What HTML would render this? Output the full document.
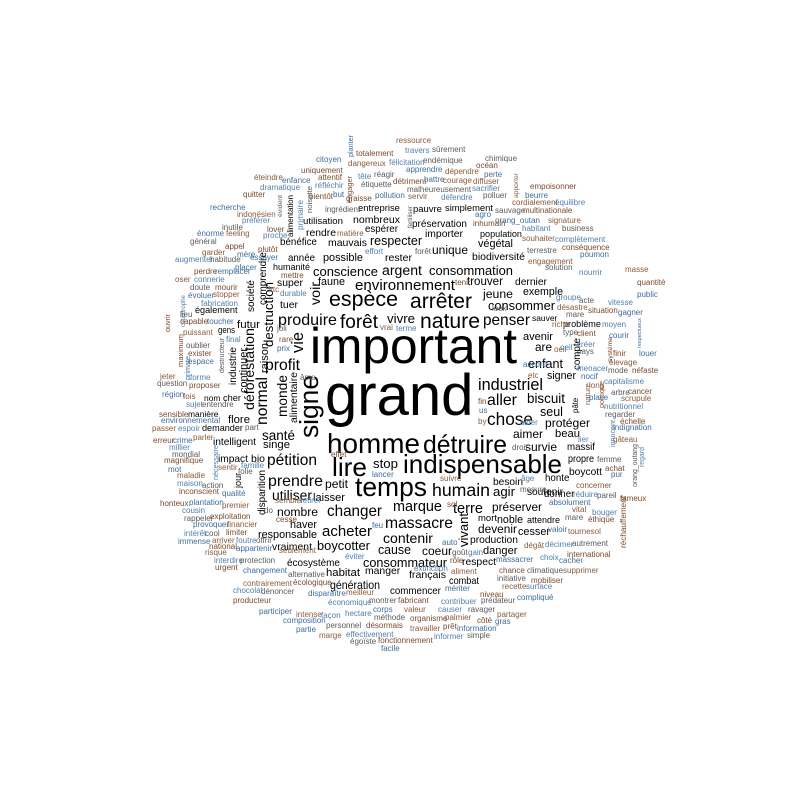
<!DOCTYPE html>
<html><head><meta charset="utf-8"><style>
html,body{margin:0;padding:0;background:#fff;width:800px;height:800px;overflow:hidden}
svg{display:block}
text{font-family:"Liberation Sans",Arial,sans-serif}
</style></head><body>
<svg id="cloud" width="800" height="800" viewBox="0 0 800 800" xmlns="http://www.w3.org/2000/svg">
<rect width="800" height="800" fill="#fff"/>
</svg>
<script>
// [word, x, baseline, size, length]
const bigWords = [
["important",310,363,47,207],["grand",325,415,58,147],["homme",327,453,30,93],["détruire",423,453,28,84],
["lire",332,476,34,35],["indispensable",403,473,30,159],["temps",355,496,30,72],["humain",432,496,22,58],
["nature",420,328,30,60],["espèce",329,306,26,69],["arrêter",410,308,28,62],["environnement",355,290,20,100],
["forêt",340,328,22,38],["vivre",387,323,18,28],["penser",483,325,22,47],["produire",278,325,22,59],
["conscience",313,276,17,65],["argent",382,275,20,40],["consommation",429,275,17,84],["trouver",467,285,17,36],
["jeune",483,298,18,30],["consommer",488,310,15,67],["profit",265,370,20,35],["santé",262,440,18,33],
["pétition",267,465,22,50],["prendre",268,486,22,55],["utiliser",272,500,18,40],["laisser",313,501,15,32],
["petit",325,488,15,23],["stop",373,468,18,25],["changer",327,516,22,55],["acheter",322,536,22,50],
["boycotter",317,550,17,53],["massacre",385,528,24,68],["marque",393,511,22,49],["terre",453,513,20,30],
["contenir",383,543,20,50],["industriel",478,390,22,65],["aller",487,405,22,30],["chose",487,425,24,46],
["biscuit",527,403,18,38],["seul",540,416,18,23],["aimer",513,438,17,30],["survie",525,451,15,32],
["préserver",492,511,18,50],["devenir",478,533,17,39],["avenir",523,340,16,30],["are",535,351,16,17],
["enfant",528,368,16,35],["nombre",277,516,16,41],["responsable",258,538,14,59],["vraiment",272,550,14,40],
["haver",290,528,14,27],["singe",263,448,14,27],["super",277,286,15,26],["tuer",280,308,15,18],
["humanité",273,270,12,37],["année",288,261,13,27],["possible",323,261,14,40],["rester",385,261,14,27],
["biodiversité",472,260,13,53],["dernier",515,285,14,32],["exemple",523,295,14,40],["sauver",532,321,13,25],
["besoin",493,485,14,30],["agir",493,496,16,22],["soutenir",527,495,14,36],["noble",497,523,15,26],
["attendre",527,523,13,33],["mort",478,521,14,19],["production",470,543,14,48],["cesser",518,535,13,32],
["faune",318,285,14,27],["futur",237,328,15,23],["flore",228,423,16,22],["intelligent",213,445,15,43],
["impact",218,462,15,30],["bio",251,462,15,14],
["cause",378,554,20,33],["coeur",422,555,16,30],["danger",483,554,17,33],["consommateur",363,567,20,84],
["respect",462,565,16,33],["manger",365,574,16,34],["habitat",326,576,17,34],["français",409,578,16,37],
["combat",449,584,16,30],["génération",330,589,18,50],["commencer",390,594,15,50],["écosystème",287,566,14,53],
["respecter",370,245,18,52],["unique",432,254,18,36],["mauvais",328,246,16,39],["nombreux",353,223,15,47],
["espérer",365,232,14,33],["préservation",412,227,14,55],["importer",425,237,14,38],["population",480,237,13,42],
["végétal",478,247,15,35],["entreprise",358,211,13,42],["pauvre",413,212,14,29],["simplement",445,211,14,48],
["utilisation",303,224,14,40],["rendre",306,236,14,30],["bénéfice",280,245,13,37],
["protéger",545,427,17,45],["beau",555,437,17,25],["massif",567,450,16,28],["propre",568,462,15,26],
["boycott",569,475,15,33],["honte",545,481,15,23],["donner",544,497,15,29],["signer",547,379,15,29],
["problème",563,327,14,38],["également",195,313,14,42],["gens",218,333,14,17],["nom",204,401,13,16],
["cher",223,401,13,18],["manière",188,417,13,30],["demander",202,431,14,40]
];
// [word, baselineX, bottomY, size, length] rotated -90
const vertWords = [
["signe",318,438,30,63],["voir",320,305,17,23],["vie",303,353,20,21],["destruction",273,347,17,65],
["déforestation",254,410,17,82],["normal",267,425,17,48],["monde",287,417,15,42],["alimentaire",297,423,11,51],
["continuer",247,393,15,45],["raison",268,373,14,30],["industrie",236,385,13,38],["société",254,312,12,32],
["comprendre",266,305,12,53],["catastrophe",185,327,9,32],["destructeur",224,373,10,35],["maximum",183,367,9,33],
["vivant",468,547,17,34],["disparition",265,515,13,45],["jour",241,488,14,15],["compte",580,370,14,32],
["système",612,362,10,25],["pâte",578,413,12,15],["politique",604,408,9,27],["innocent",615,447,9,27],
["orang_outang",637,487,9,43],["réchauffement",626,548,9,52],["respectueux",641,348,9,30],
["alimentation",293,237,11,42],["primaire",303,230,10,30],["noisette",312,213,9,27],["engager",352,203,9,27],
["planter",353,157,9,22],["apporter",518,198,9,25],["nécessaire",218,480,9,35],["évident",282,217,9,22],
["ouvrir",170,332,9,18],["primate",190,380,9,24],["nature",590,405,9,22],["regard",644,467,9,20],["fertiliser",412,228,9,22]
];
// [word, x, baseline]
const smallWords = [
["quitter",243,197],["recherche",210,210],["indonésien",237,217],["préférer",242,223],["inutile",222,230],
["lover",267,232],["énorme",197,236],["feeling",226,236],["proche",263,238],["général",190,244],["appel",225,249],
["mère",237,257],["garder",202,255],["augmenter",175,262],["habitude",210,262],["perdre",194,274],["remplacer",215,274],
["oser",175,282],["connerie",194,282],["doute",190,290],["mourir",215,290],["évoluer",188,298],["stopper",213,297],
["fabrication",201,306],["lieu",180,317],["capable",180,324],["toucher",207,324],["puissant",183,335],["final",226,342],
["oublier",186,348],["exister",188,356],["espace",188,364],["jeter",160,379],["forme",190,380],["question",157,386],
["proposer",189,388],["région",162,397],["fois",183,399],["sujet",186,407],["entendre",202,407],["sensible",159,417],
["environnemental",161,423],["passer",152,431],["espoir",178,431],["part",245,430],
["erreur",153,443],["crime",173,443],["parler",193,440],["millier",169,450],["mondial",172,457],["magnifique",164,463],
["mot",168,472],["maladie",177,478],["maison",177,486],["action",202,488],["inconscient",179,494],["qualité",222,496],
["sentir",218,470],["famille",241,468],["folie",238,474],["honteux",160,506],["plantation",189,505],["premier",222,508],
["cousin",182,513],["rappeler",184,521],["exploitation",210,519],["provoquer",193,527],["financier",227,527],
["intérêt",184,536],["cool",205,536],["limiter",226,535],["immense",178,544],["arriver",212,543],["foutre",236,543],
["offrir",256,543],["national",209,549],["appartenir",236,551],["risque",205,555],["interdire",214,563],
["protection",240,563],["urgent",215,570],["changement",243,573],["contrairement",243,586],["chocolat",233,593],
["dénoncer",261,594],["producteur",233,603],["participer",259,614],
["seulement",279,553],["éviter",345,559],["alternative",288,577],["écologique",293,585],["disparaître",308,596],
["meilleur",346,595],["économique",328,605],["montrer",369,603],["fabricant",398,603],["corps",373,612],
["valeur",404,612],["hectare",345,616],["méthode",374,620],["organisme",410,621],["composition",283,623],
["intense",296,617],["façon",321,618],["personnel",326,628],["désormais",366,628],["partie",296,632],["marge",319,638],
["effectivement",346,637],["égoïste",350,644],["fonctionnement",378,643],["facile",381,651],["travailler",410,631],
["informer",434,639],["simple",467,638],["prêt",443,629],["information",457,631],["palmier",445,620],["causer",438,612],
["ravager",468,612],["côté",477,623],["gras",495,624],["partager",497,617],["contribuer",441,604],["prédateur",481,603],
["niveau",480,597],["mériter",445,591],["recette",502,589],["surface",526,589],["initiative",497,581],["chance",499,573],
["massacrer",496,562],["aliment",451,574],["extinction",414,571],["climatique",527,573],["mobiliser",531,583],
["compliqué",517,600],["dégât",524,548],["gain",468,555],["goût",452,555],["rôle",450,563],["auto",442,545],
["désastre",557,310],["vitesse",608,305],["mare",566,317],["situation",588,313],["gagner",618,315],["riche",552,327],
["moyen",602,327],["type",563,335],["client",577,336],["courir",609,338],["oeil",554,352],["créer",577,347],
["pays",577,354],["finir",613,356],["louer",639,356],["élevage",609,365],["menacer",577,371],["mode",608,373],
["néfaste",632,373],["nocif",581,379],["long",589,388],["capitalisme",604,384],["arbre",611,395],["cancer",628,394],
["place",589,400],["scrupule",621,401],["nutritionnel",604,409],["regarder",605,417],["échelle",620,424],
["indignation",613,430],["gâteau",613,442],["lier",578,442],["femme",597,462],["achat",605,471],["pur",611,477],
["concerner",576,488],["réduire",573,497],["pareil",597,498],["fameux",620,501],["absolument",549,505],["vital",572,512],
["bouger",592,515],["mare",565,520],["éthique",588,522],["valoir",548,532],["tournesol",568,534],["décimer",545,547],
["autrement",572,546],["international",567,557],["cacher",559,563],["supprimer",563,573],["choix",540,560],
["chimique",485,161],["océan",476,168],["perte",484,177],["diffuser",473,184],["sacrifier",472,191],["polluer",483,198],
["empoisonner",530,189],["beurre",525,198],["cordialement",512,205],["équilibre",555,205],["sauvage",495,213],
["multinationale",523,213],["orang_outan",495,223],["signature",548,223],["habitant",522,231],["business",562,231],
["inhumain",473,226],["agro",475,217],["souhaiter",522,241],["complètement",555,242],["terrestre",527,253],
["conséquence",562,250],["poumon",580,257],["ressource",396,143],["travers",405,153],["sûrement",432,152],
["totalement",356,156],["citoyen",316,162],["dangereux",348,166],["félicitation",389,165],["endémique",423,163],
["uniquement",301,173],["apprendre",406,172],["dépendre",445,174],["tête",358,179],["réagir",374,177],["attentif",318,180],
["enfance",282,183],["éteindre",254,180],["réfléchir",315,188],["étiquette",361,187],["détriment",393,184],
["battre",424,182],["courage",443,183],["dramatique",260,190],["malheureusement",407,192],["bientôt",309,199],
["but",333,197],["servir",408,199],["défendre",441,200],["ingrédient",325,212],["graisse",346,201],["pollution",375,198],
["matière",337,236],["effort",365,254],["forêt",415,254],["plutôt",258,252],["essayer",250,260],
["masse",625,272],["nourrir",579,275],["solution",545,270],["quantité",637,285],["public",637,297],["engagement",528,264],
["groupe",556,300],["acte",579,303],["mettre",281,278],["placer",235,270],["frtc",268,292],["durable",280,296],
["joli",277,331],["rare",279,342],["prix",277,351],["vrai",380,330],["terme",396,331],["look",492,311],["tenir",455,285],
["accord",523,367],["etc",528,378],["oeil",560,350],["âme",300,380],["fin",478,404],["us",479,413],["by",478,424],
["aider",520,425],["droit",512,450],["effet",331,457],["lancer",372,477],["suivre",440,481],["âge",521,481],
["mesure",520,492],["sol",447,507],["feu",372,528],["sembler",275,503],["retirer",300,503],["do",264,513],["cesse",276,522]
];

const svg = document.getElementById('cloud');
const NS = 'http://www.w3.org/2000/svg';
const smallColors = ['#7a4a2e','#3d6c9c','#8a5a3a','#4f7fae','#5a5a5a'];

function fit(t, size, len) {
  // scale font so natural width matches target length (limited), then enforce length
  const nat = t.getComputedTextLength();
  if (nat > 0) {
    let s = size * len / nat;
    s = Math.max(size * 0.65, Math.min(size * 1.35, s));
    if (Math.abs(s - size) / size > 0.03) t.setAttribute('font-size', s.toFixed(2));
    const nat2 = t.getComputedTextLength();
    if (Math.abs(nat2 - len) > 1.5) {
      t.setAttribute('textLength', len);
      t.setAttribute('lengthAdjust', 'spacingAndGlyphs');
    }
  }
}

for (let i = 0; i < bigWords.length; i++) {
  const r = bigWords[i];
  const t = document.createElementNS(NS, 'text');
  t.setAttribute('x', r[1]); t.setAttribute('y', r[2]);
  t.setAttribute('font-size', r[3]);
  t.setAttribute('fill', '#000');
  t.textContent = r[0];
  
  
  svg.appendChild(t);
  fit(t, r[3], r[4]);
}
for (let i = 0; i < vertWords.length; i++) {
  const r = vertWords[i];
  const t = document.createElementNS(NS, 'text');
  t.setAttribute('x', 0); t.setAttribute('y', 0);
  t.setAttribute('transform', 'translate(' + r[1] + ',' + r[2] + ') rotate(-90)');
  t.setAttribute('font-size', r[3]);
  t.setAttribute('fill', r[3] >= 11 ? '#000' : smallColors[i % smallColors.length]);
  t.textContent = r[0];
  
  
  svg.appendChild(t);
  fit(t, r[3], r[4]);
}
for (let i = 0; i < smallWords.length; i++) {
  const r = smallWords[i];
  const t = document.createElementNS(NS, 'text');
  t.setAttribute('x', r[1]); t.setAttribute('y', r[2]);
  t.setAttribute('font-size', 8);
  t.setAttribute('fill', smallColors[i % smallColors.length]);
  t.textContent = r[0];
  
  
  svg.appendChild(t);
}
</script>
</body></html>
